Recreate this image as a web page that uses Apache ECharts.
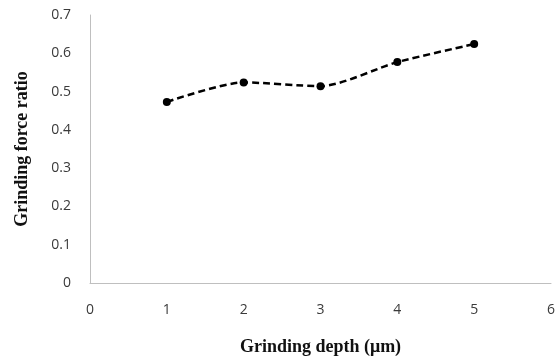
<!DOCTYPE html>
<html><head><meta charset="utf-8">
<script src="https://cdn.jsdelivr.net/npm/echarts@6/dist/echarts.min.js"></script>
<style>html,body{margin:0;padding:0;background:#fff}#c{width:555px;height:359px}</style>
</head><body><div id="c"></div>
<script>
const depths = [1, 2, 3, 4, 5];
const ratios = [0.473, 0.524, 0.514, 0.577, 0.624];
const xTicks = [0, 1, 2, 3, 4, 5, 6];
const yTicks = [0, 0.1, 0.2, 0.3, 0.4, 0.5, 0.6, 0.7];

const chart = echarts.init(document.getElementById('c'));
chart.setOption({
  animation: false,
  grid: { left: 90, right: 4, top: 15, bottom: 76, containLabel: false, outerBoundsMode: 'none' },
  xAxis: {
    type: 'value', min: xTicks[0], max: xTicks[xTicks.length - 1], interval: 1,
    name: 'Grinding depth (μm)', nameLocation: 'middle', nameGap: 55,
    nameTextStyle: { fontFamily: 'Liberation Serif', fontWeight: 'bold', fontSize: 18, color: '#111' },
    axisLine: { lineStyle: { color: '#bfbfbf', width: 1 } },
    axisTick: { show: false },
    splitLine: { show: false },
    axisLabel: { fontFamily: 'Open Sans', fontSize: 14, color: '#3a3a3a', margin: 20 }
  },
  yAxis: {
    type: 'value', min: yTicks[0], max: yTicks[yTicks.length - 1], interval: 0.1,
    name: 'Grinding force ratio', nameLocation: 'middle', nameGap: 59,
    nameTextStyle: { fontFamily: 'Liberation Serif', fontWeight: 'bold', fontSize: 18, color: '#111' },
    axisLine: { show: true, lineStyle: { color: '#bfbfbf', width: 1 } },
    axisTick: { show: false },
    splitLine: { show: false },
    axisLabel: { fontFamily: 'Open Sans', fontSize: 14, color: '#3a3a3a', margin: 19,
      formatter: v => String(Math.round(v * 10) / 10) }
  },
  series: [{
    type: 'line',
    data: depths.map((d, i) => [d, ratios[i]]),
    smooth: 0.25,
    symbol: 'circle', symbolSize: 8,
    itemStyle: { color: '#000' },
    lineStyle: { color: '#000', width: 2.5, type: [7, 4] }
  }]
});
</script></body></html>
